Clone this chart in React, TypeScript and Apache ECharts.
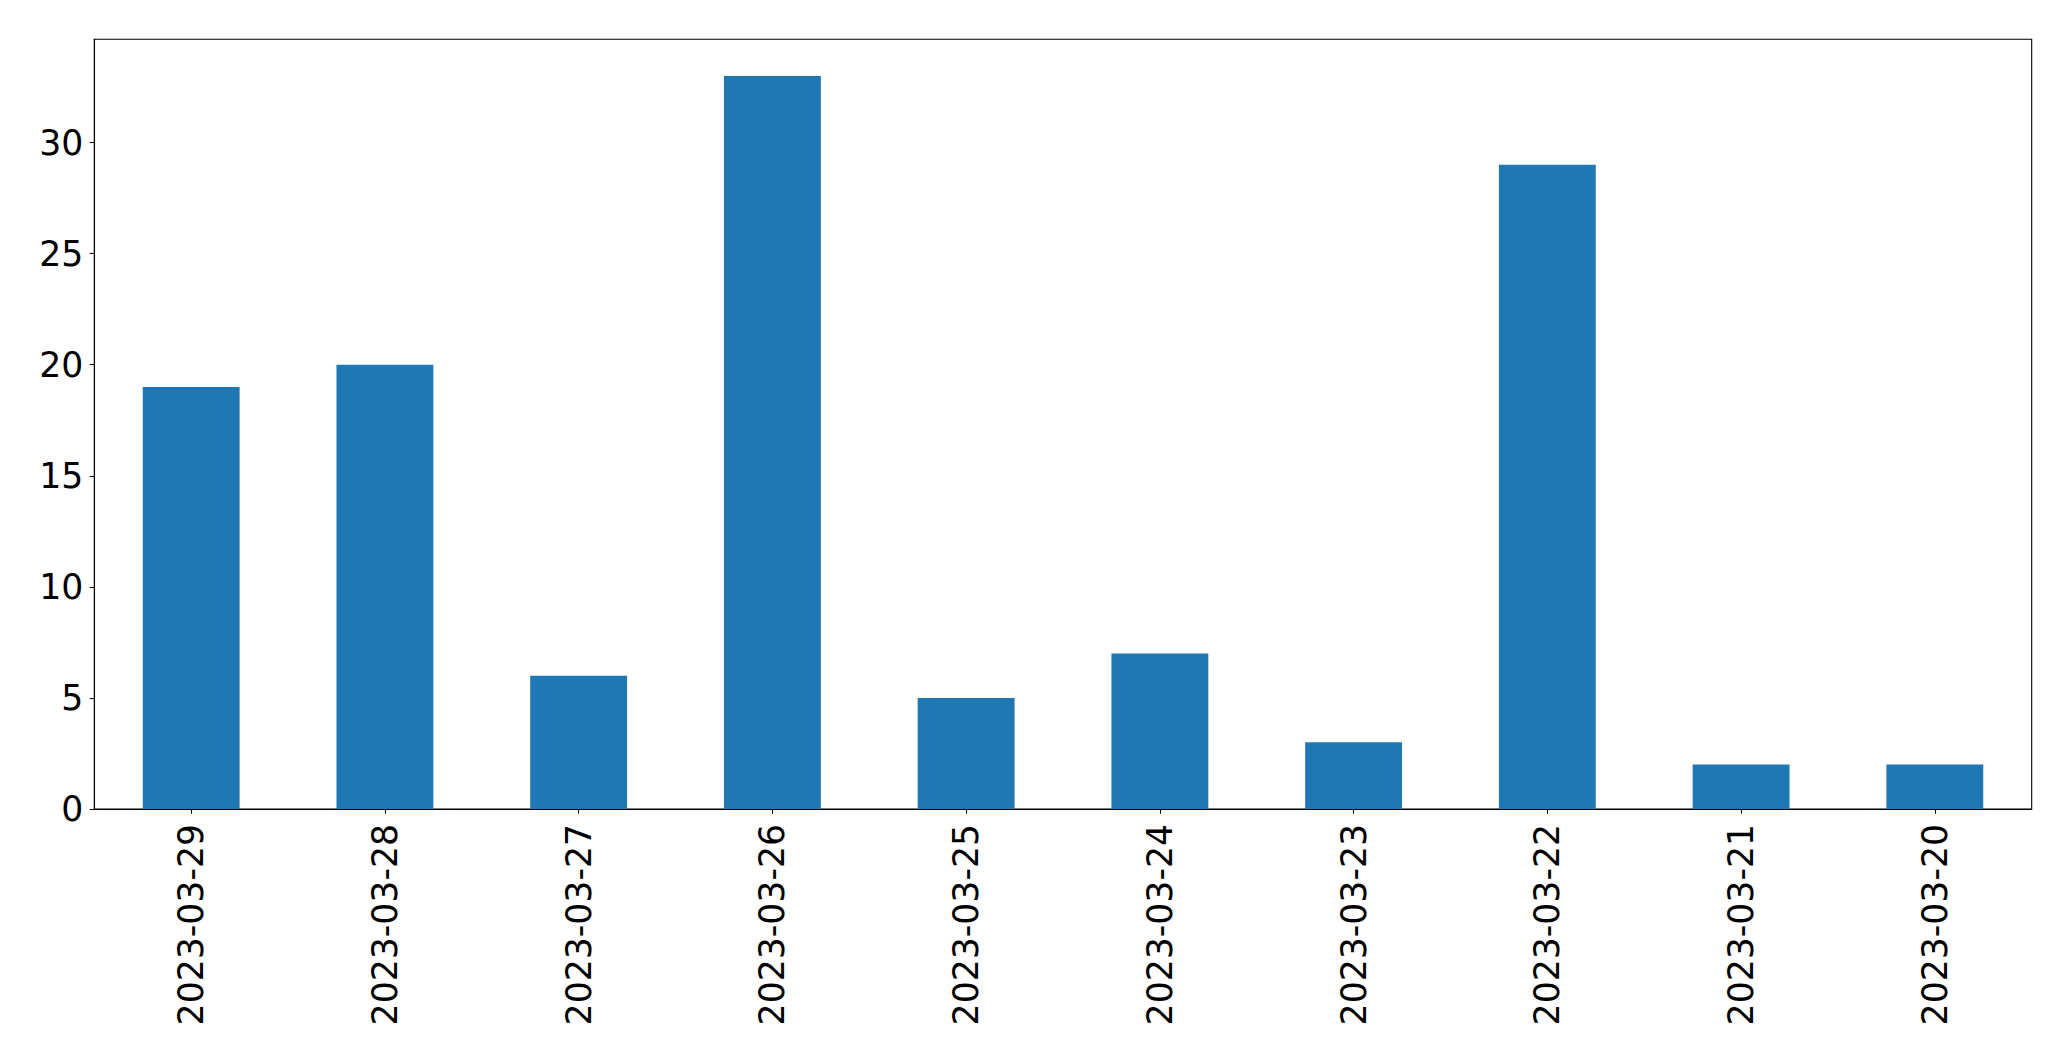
import React, { useEffect, useRef } from "react";
import * as echarts from "echarts";

const categories = [
  "2023-03-29",
  "2023-03-28",
  "2023-03-27",
  "2023-03-26",
  "2023-03-25",
  "2023-03-24",
  "2023-03-23",
  "2023-03-22",
  "2023-03-21",
  "2023-03-20",
];
const values = [19, 20, 6, 33, 5, 7, 3, 29, 2, 2];
const yTicks = [0, 5, 10, 15, 20, 25, 30];
const yMax = 34.65;

const FONT = "DejaVu Sans";
const FS = 34.67;

export default function App() {
  const ref = useRef<HTMLDivElement>(null);
  useEffect(() => {
    if (!ref.current) return;
    const chart = echarts.init(ref.current, null, { renderer: "svg" });
    chart.setOption({
      animation: false,
      backgroundColor: "#ffffff",
      grid: {
        left: 94.3,
        top: 39.3,
        width: 1937.4,
        height: 769.7,
        show: true,
        borderColor: "#000000",
        borderWidth: 1.07,
        backgroundColor: "transparent",
      },
      xAxis: {
        type: "category",
        data: categories,
        boundaryGap: true,
        axisLine: { show: true, lineStyle: { color: "#000000", width: 1.07 } },
        axisTick: {
          show: true,
          alignWithLabel: true,
          length: 4.67,
          lineStyle: { color: "#000000", width: 1.07 },
        },
        axisLabel: {
          rotate: 90,
          fontSize: FS,
          fontFamily: FONT,
          color: "#000000",
          margin: 15,
          interval: 0,
        },
        splitLine: { show: false },
      },
      yAxis: {
        type: "value",
        min: 0,
        max: yMax,
        interval: 5,
        axisLine: { show: true, lineStyle: { color: "#000000", width: 1.07 } },
        axisTick: {
          show: true,
          length: 4.67,
          customValues: yTicks,
          lineStyle: { color: "#000000", width: 1.07 },
        },
        axisLabel: {
          fontSize: FS,
          fontFamily: FONT,
          color: "#000000",
          margin: 11,
          customValues: yTicks,
        },
        splitLine: { show: false },
      },
      series: [
        {
          type: "bar",
          data: values,
          barWidth: "50%",
          itemStyle: { color: "#1f77b4" },
        },
      ],
    });
    return () => chart.dispose();
  }, []);
  return (
    <div
      ref={ref}
      style={{ position: "fixed", left: 0, top: 0, width: 2071, height: 1061, background: "#fff" }}
    />
  );
}
